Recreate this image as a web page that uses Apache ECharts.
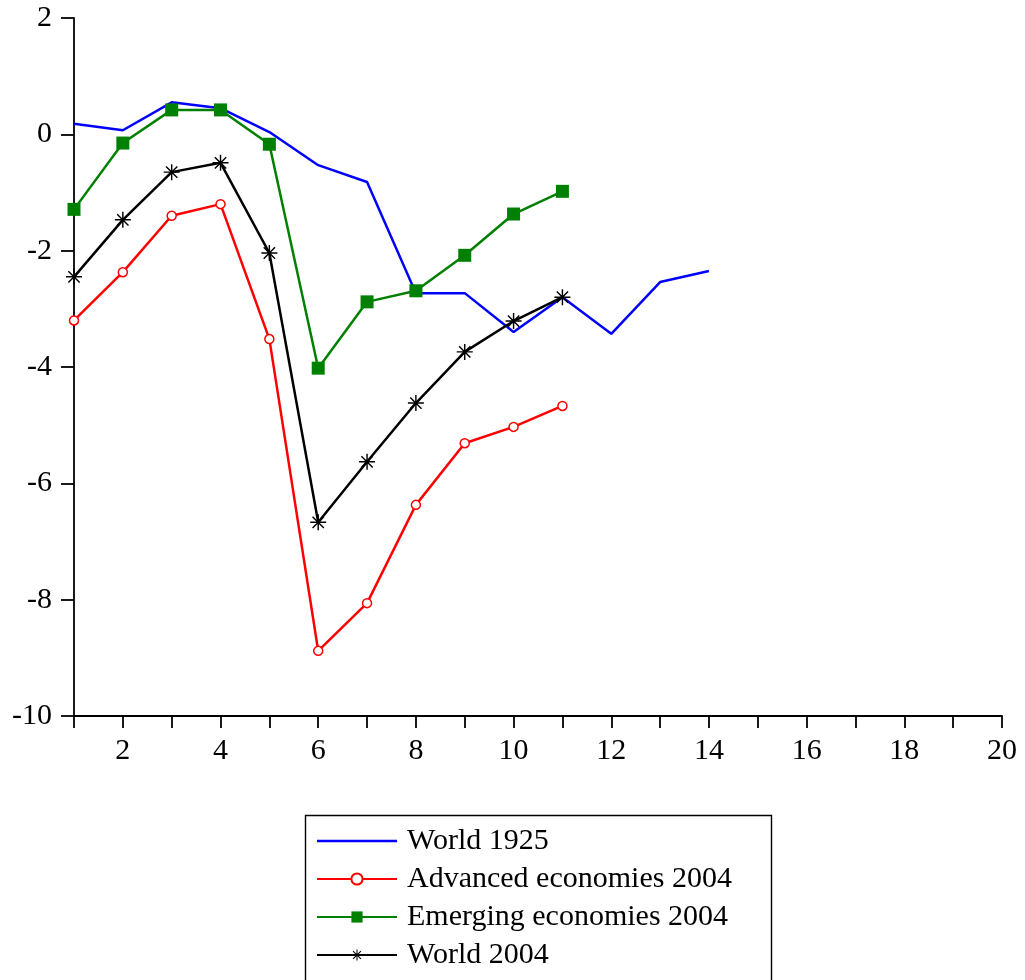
<!DOCTYPE html>
<html>
<head>
<meta charset="utf-8">
<script src="https://cdn.jsdelivr.net/npm/echarts@6/dist/echarts.min.js"></script>
<style>
html,body{margin:0;padding:0;background:#fff;}
#c{width:1025px;height:980px;}
</style>
</head>
<body>
<div id="c"></div>
<script>
const xValues = [1,2,3,4,5,6,7,8,9,10,11,12,13,14];
const world1925 = [0.18,0.07,0.55,0.45,0.04,-0.53,-0.82,-2.73,-2.73,-3.40,-2.80,-3.43,-2.54,-2.35];
const advanced2004 = [-3.20,-2.37,-1.40,-1.20,-3.52,-8.88,-8.06,-6.37,-5.31,-5.03,-4.67];
const emerging2004 = [-1.29,-0.15,0.42,0.42,-0.17,-4.02,-2.88,-2.69,-2.08,-1.37,-0.98];
const world2004 = [-2.45,-1.47,-0.65,-0.49,-2.04,-6.67,-5.63,-4.62,-3.74,-3.21,-2.80];
const seriesNames = ['World 1925','Advanced economies 2004','Emerging economies 2004','World 2004'];

function pairs(arr){ return arr.map((v,i)=>[xValues[i], v]); }

const FONT = "'Liberation Serif','Times New Roman',serif";
const asterisk = 'path://M9.1,0L10.9,0L10.9,20L9.1,20Z M0,9.1L20,9.1L20,10.9L0,10.9Z M2.29,3.56L3.56,2.29L17.71,16.44L16.44,17.71Z M16.44,2.29L17.71,3.56L3.56,17.71L2.29,16.44Z';
const lineIcon = 'path://M0,0L80,0L80,2.5L0,2.5Z';

const chart = echarts.init(document.getElementById('c'));
chart.setOption({
  animation:false,
  backgroundColor:'#fff',
  grid:{left:74,right:23,top:18,bottom:264},
  xAxis:{
    type:'value',min:1,max:20,interval:1,
    axisLine:{onZero:false,lineStyle:{color:'#000',width:1.8}},
    axisTick:{length:12,lineStyle:{color:'#000',width:1.8}},
    axisLabel:{color:'#000',fontFamily:FONT,fontSize:30,margin:20,
      formatter:v=> (v%2===0 ? String(v) : '')},
    splitLine:{show:false}
  },
  yAxis:{
    type:'value',min:-10,max:2,interval:2,
    axisLine:{show:true,lineStyle:{color:'#000',width:1.8}},
    axisTick:{show:true,length:13,lineStyle:{color:'#000',width:1.8}},
    axisLabel:{color:'#000',fontFamily:FONT,fontSize:30,margin:22},
    splitLine:{show:false}
  },
  legend:{
    orient:'vertical',left:316,top:822,padding:0,itemGap:0,
    itemWidth:80,itemHeight:14,
    textStyle:{fontFamily:FONT,fontSize:30,color:'#000',lineHeight:38,padding:[0,0,0,5]},
    data:[{name:seriesNames[0],icon:lineIcon},seriesNames[1],seriesNames[2],seriesNames[3]]
  },
  graphic:[{type:'rect',shape:{x:305.5,y:815.5,width:466,height:200},
    style:{fill:'none',stroke:'#000',lineWidth:1.4},z:-1}],
  series:[
    {name:seriesNames[0],type:'line',data:pairs(world1925),symbol:'none',
      lineStyle:{color:'#0000ff',width:2.5},itemStyle:{color:'#0000ff'},clip:true},
    {name:seriesNames[1],type:'line',data:pairs(advanced2004),symbol:'circle',symbolSize:9,
      lineStyle:{color:'#ff0000',width:2.5},itemStyle:{color:'#fff',borderColor:'#ff0000',borderWidth:1.5},clip:true},
    {name:seriesNames[2],type:'line',data:pairs(emerging2004),symbol:'rect',symbolSize:13,
      lineStyle:{color:'#008000',width:2.5},itemStyle:{color:'#008000'},clip:true},
    {name:seriesNames[3],type:'line',data:pairs(world2004),symbol:asterisk,symbolSize:16,
      lineStyle:{color:'#000',width:2.5},itemStyle:{color:'#000'},clip:true}
  ]
});
</script>
</body>
</html>
